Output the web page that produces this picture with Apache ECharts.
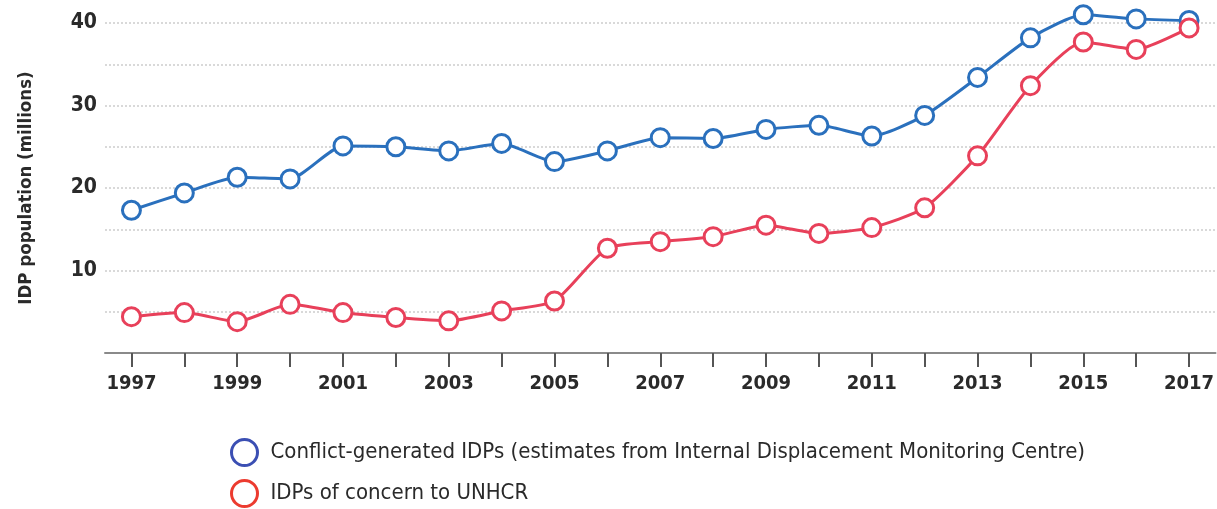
<!DOCTYPE html>
<html>
<head>
<meta charset="utf-8">
<script src="https://cdn.jsdelivr.net/npm/echarts@6/dist/echarts.min.js"></script>
<style>
  html, body { margin: 0; padding: 0; background: #fff; }
  #idpChart { width: 1217px; height: 509px; }
</style>
</head>
<body>
<div id="idpChart"></div>
<script>
// years on the x axis
const years = ['1997','1998','1999','2000','2001','2002','2003','2004','2005','2006','2007',
               '2008','2009','2010','2011','2012','2013','2014','2015','2016','2017'];
// conflict-generated IDPs (IDMC estimates), millions
const conflictIdps = [17.3, 19.4, 21.3, 21.1, 25.1, 25.0, 24.5, 25.4, 23.2, 24.5, 26.1,
                      26.0, 27.1, 27.6, 26.3, 28.8, 33.4, 38.2, 41.0, 40.5, 40.3];
// IDPs of concern to UNHCR, millions
const unhcrIdps = [4.4, 4.9, 3.8, 5.9, 4.9, 4.3, 3.9, 5.1, 6.3, 12.7, 13.5,
                   14.1, 15.5, 14.5, 15.2, 17.6, 23.9, 32.4, 37.7, 36.8, 39.4];
const yTicks = [10, 20, 30, 40];

const seriesNames = [
  'Conflict-generated IDPs (estimates from Internal Displacement Monitoring Centre)',
  'IDPs of concern to UNHCR'
];

const font = '"DejaVu Sans Condensed", "DejaVu Sans", sans-serif';

// one legend per row, so the rows stack like the original
function legendRow(name, top, ring) {
  return {
    left: 225,
    top: top,
    icon: 'circle',
    itemWidth: 26,
    itemHeight: 26,
    textStyle: { fontSize: 22, color: '#2a2a2a', fontFamily: font, padding: [0, 0, 0, 8] },
    data: [{ name: name, itemStyle: { color: '#fff', borderColor: ring, borderWidth: 3 } }]
  };
}

var chart = echarts.init(document.getElementById('idpChart'));
const option = {
  animation: false,
  textStyle: { fontFamily: font },
  grid: { left: 105, top: 23, width: 1115, bottom: 156, containLabel: false },
  legend: [
    legendRow(seriesNames[0], 433, '#3b4fb3'),
    legendRow(seriesNames[1], 474, '#ec3b2f')
  ],
  xAxis: {
    type: 'category',
    data: years,
    boundaryGap: true,
    axisLine: { lineStyle: { color: '#8a8a8a', width: 2 } },
    axisTick: { show: true, interval: 0, alignWithLabel: true, length: 14, lineStyle: { color: '#555', width: 2 } },
    axisLabel: { interval: 1, margin: 21, fontSize: 20, fontWeight: 'bold', color: '#2a2a2a', fontFamily: font }
  },
  yAxis: {
    type: 'value',
    min: 0,
    max: 40,
    interval: 5,
    name: 'IDP population (millions)',
    nameLocation: 'middle',
    nameGap: 69,
    nameTextStyle: { fontSize: 18.5, fontWeight: 'bold', color: '#2a2a2a', fontFamily: font },
    axisLine: { show: false },
    axisTick: { show: false },
    axisLabel: {
      fontSize: 21, fontWeight: 'bold', color: '#2a2a2a', margin: 8, fontFamily: font,
      formatter: function (v) { return yTicks.indexOf(v) >= 0 ? String(v) : ''; }
    },
    splitLine: { lineStyle: { color: '#d9d9d9', type: [2, 2], width: 2 } }
  },
  series: [
    {
      name: seriesNames[0],
      type: 'line',
      data: conflictIdps,
      smooth: 0.2,
      clip: false,
      symbol: 'circle',
      symbolSize: 18,
      lineStyle: { color: '#2a70bd', width: 3 },
      itemStyle: { color: '#fff', borderColor: '#2a70bd', borderWidth: 3 },
      z: 3
    },
    {
      name: seriesNames[1],
      type: 'line',
      data: unhcrIdps,
      smooth: 0.2,
      clip: false,
      symbol: 'circle',
      symbolSize: 18,
      lineStyle: { color: '#e8405a', width: 3 },
      itemStyle: { color: '#fff', borderColor: '#e8405a', borderWidth: 3 },
      z: 4
    }
  ]
};
chart.setOption(option);
</script>
</body>
</html>
